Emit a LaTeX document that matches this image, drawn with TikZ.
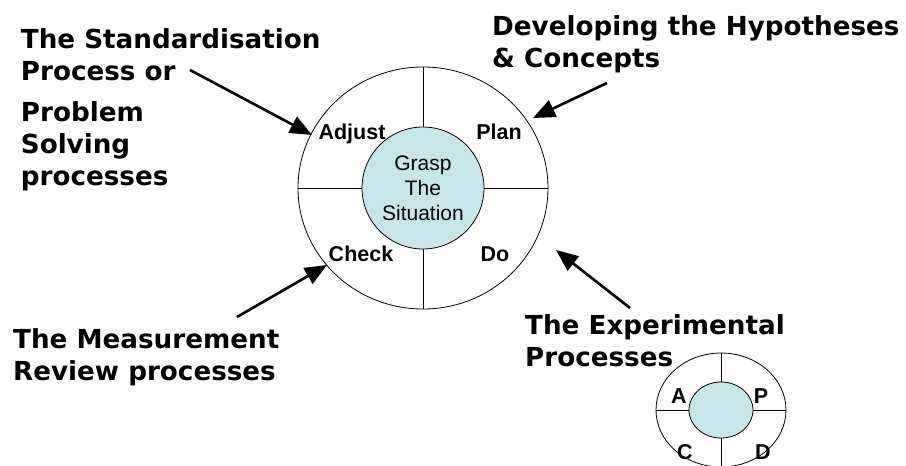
\documentclass[tikz,border=0pt]{standalone}
\usepackage{fontspec}
\setmainfont{Liberation Sans}
\newfontfamily\notefont{DejaVu Sans}
\usetikzlibrary{arrows.meta,shapes.geometric}
\definecolor{hubfill}{RGB}{198,230,234}

\begin{document}
\begin{tikzpicture}[x=1pt,y=-1pt,>={Triangle[length=22pt,width=18pt]},
                    note/.style={font=\notefont\bfseries\fontsize{26.2}{32}\selectfont,
                                 align=left,anchor=base west,inner sep=0pt},
                    quad/.style={font=\bfseries\fontsize{21.5}{24}\selectfont,
                                 anchor=base,inner sep=0pt},
                    pointer/.style={->,line width=2.6pt},
                    spoke/.style={draw,line width=0.8pt}]
  \useasboundingbox (0,0) rectangle (906,466);

  % big cycle
  \node[ellipse,draw,line width=0.8pt,minimum width=250pt,minimum height=242pt,
        inner sep=0pt] (ring) at (423,188) {};
  \node[circle,draw,line width=0.8pt,fill=hubfill,minimum size=122pt,inner sep=0pt,
        align=center,font=\fontsize{21}{25}\selectfont] (hub) at (423,188)
        {Grasp\\The\\Situation};
  \path[spoke] (hub.north) -- (ring.north)
               (hub.south) -- (ring.south)
               (hub.west)  -- (ring.west)
               (hub.east)  -- (ring.east);
  \node[quad] (adj)  at (352,139.5) {Adjust};
  \node[quad] (plan) at (499,139.5) {Plan};
  \node[quad] (chk)  at (361,261.7) {Check};
  \node[quad] (do)   at (495,261.7) {Do};

  % small cycle
  \node[ellipse,draw,line width=0.8pt,minimum width=130pt,minimum height=114pt,
        inner sep=0pt] (ring2) at (721,410) {};
  \node[ellipse,draw,line width=0.8pt,fill=hubfill,minimum width=64pt,
        minimum height=56pt,inner sep=0pt] (hub2) at (721,410) {};
  \path[spoke] (hub2.north) -- (ring2.north)
               (hub2.south) -- (ring2.south)
               (hub2.west)  -- (ring2.west)
               (hub2.east)  -- (ring2.east);
  \node[quad] (a2) at (679,403) {A};
  \node[quad] (p2) at (761,403) {P};
  \node[quad] (c2) at (685,459) {C};
  \node[quad] (d2) at (763,459) {D};

  % notes (base = last line)
  \node[note] (std)  at (20.7,80) {The Standardisation\\Process or};
  \node[note] (prob) at (20.7,185) {Problem\\Solving\\processes};
  \node[note] (dev)  at (492,67) {Developing the Hypotheses\\\& Concepts};
  \node[note] (meas) at (13,380) {The Measurement\\Review processes};
  \node[note] (expt) at (525,366) {The Experimental\\Processes};

  % arrows
  \coordinate (stdTail) at (190,70);
  \coordinate (stdTip)  at (312,135);
  \coordinate (devTail) at (607,83);
  \coordinate (devTip)  at (533,118);
  \coordinate (measTail) at (237,317);
  \coordinate (measTip)  at (327,265);
  \coordinate (exptTail) at (630,308);
  \coordinate (exptTip)  at (556,250);
  \draw[pointer] (stdTail) -- (stdTip);
  \draw[pointer] (devTail) -- (devTip);
  \draw[pointer] (measTail) -- (measTip);
  \draw[pointer] (exptTail) -- (exptTip);
\end{tikzpicture}
\end{document}
